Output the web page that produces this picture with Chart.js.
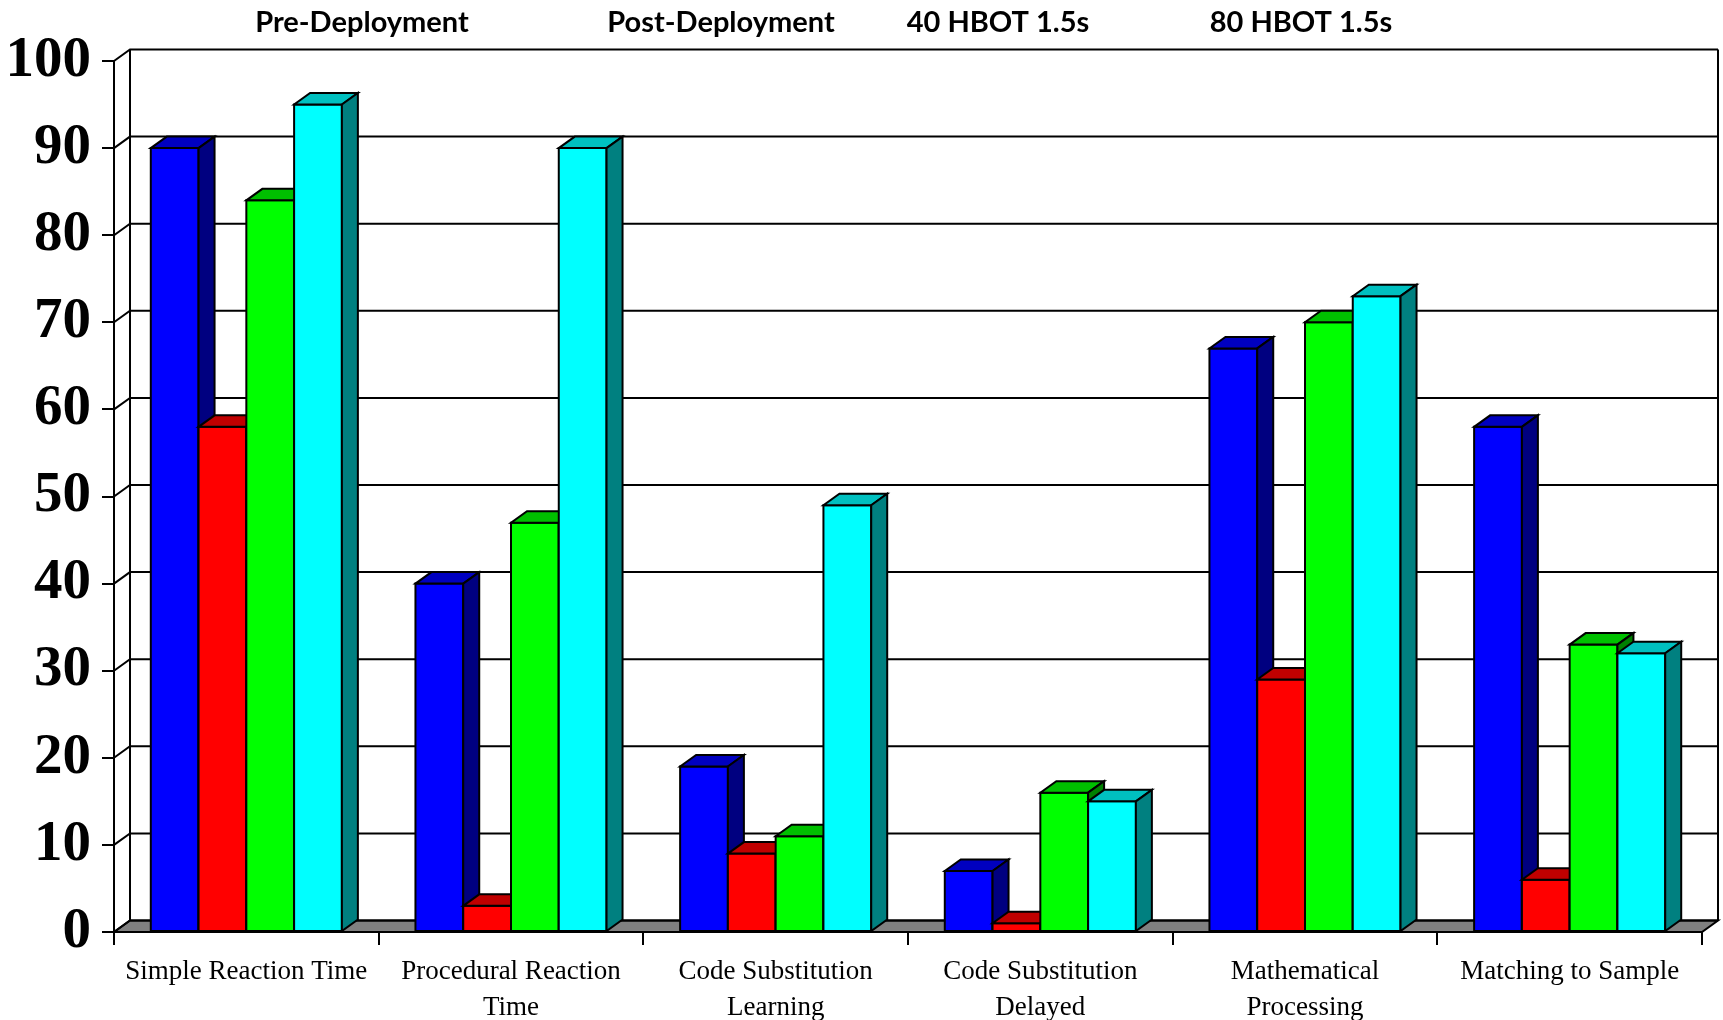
<!DOCTYPE html>
<html>
<head>
<meta charset="utf-8">
<script src="https://cdn.jsdelivr.net/npm/chart.js@4/dist/chart.umd.min.js"></script>
<style>
  html, body { margin: 0; padding: 0; background: #ffffff; }
  canvas { display: block; }
</style>
</head>
<body>
<canvas id="chart" width="1723" height="1020"></canvas>
<script>
// Test categories (multi-line labels are arrays)
const categories = [
  ["Simple Reaction Time"],
  ["Procedural Reaction", "Time"],
  ["Code Substitution", "Learning"],
  ["Code Substitution", "Delayed"],
  ["Mathematical", "Processing"],
  ["Matching to Sample"]
];

const seriesNames = ["Pre-Deployment", "Post-Deployment", "40 HBOT 1.5s", "80 HBOT 1.5s"];

const preDeployment  = [90, 40, 19, 7, 67, 58];
const postDeployment = [58, 3, 9, 1, 29, 6];
const hbot40         = [84, 47, 11, 16, 70, 33];
const hbot80         = [95, 90, 49, 15, 73, 32];

const yTickValues = [0, 10, 20, 30, 40, 50, 60, 70, 80, 90, 100];

// Face colours of the pseudo-3D columns: front, top (lighter shade) and side (darker shade)
const frontColors = ["#0000FF", "#FF0000", "#00FF00", "#00FFFF"];
const topColors   = ["#0000C0", "#C00000", "#00C000", "#00C0C0"];
const sideColors  = ["#000080", "#800000", "#008000", "#008080"];

// Depth offset of the back wall relative to the front plane
const DEPTH = { dx: 16, dy: -11.5 };

function poly(ctx, pts, fill) {
  ctx.beginPath();
  ctx.moveTo(pts[0][0], pts[0][1]);
  for (let k = 1; k < pts.length; k++) ctx.lineTo(pts[k][0], pts[k][1]);
  ctx.closePath();
  if (fill) { ctx.fillStyle = fill; ctx.fill(); }
  ctx.stroke();
}

// Back wall, left side wall and grey floor
const wallPlugin = {
  id: "wall3d",
  beforeDatasetsDraw(chart) {
    const { ctx, chartArea: a, scales: { y } } = chart;
    const { dx, dy } = DEPTH;
    ctx.save();
    ctx.lineWidth = 2;
    ctx.strokeStyle = "#000";
    ctx.lineJoin = "miter";
    const y0 = y.getPixelForValue(y.min);
    const yTop = y.getPixelForValue(y.max);
    poly(ctx, [[a.left, y0], [a.right, y0], [a.right + dx, y0 + dy], [a.left + dx, y0 + dy]], "#808080");
    y.ticks.forEach(t => {
      const py = y.getPixelForValue(t.value);
      ctx.beginPath();
      ctx.moveTo(a.left, py);
      ctx.lineTo(a.left + dx, py + dy);
      ctx.lineTo(a.right + dx, py + dy);
      ctx.stroke();
    });
    ctx.beginPath();
    ctx.moveTo(a.left + dx, y0 + dy);
    ctx.lineTo(a.left + dx, yTop + dy);
    ctx.moveTo(a.right + dx, y0 + dy);
    ctx.lineTo(a.right + dx, yTop + dy);
    ctx.stroke();
    ctx.restore();
  }
};

// Columns with top and side faces, painted series by series from left to right
const columnPlugin = {
  id: "columns3d",
  afterDatasetsDraw(chart) {
    const { ctx } = chart;
    const { dx, dy } = DEPTH;
    ctx.save();
    ctx.lineWidth = 2;
    ctx.strokeStyle = "#000";
    ctx.lineJoin = "miter";
    chart.data.datasets.forEach((ds, i) => {
      const meta = chart.getDatasetMeta(i);
      if (meta.hidden) return;
      meta.data.forEach(bar => {
        const { x, y, base, width } = bar.getProps(["x", "y", "base", "width"], true);
        const L = x - width / 2, R = x + width / 2;
        poly(ctx, [[L, y], [R, y], [R, base], [L, base]], frontColors[i]);
        poly(ctx, [[L, y], [R, y], [R + dx, y + dy], [L + dx, y + dy]], topColors[i]);
        poly(ctx, [[R, y], [R + dx, y + dy], [R + dx, base + dy], [R, base]], sideColors[i]);
      });
    });
    ctx.restore();
  }
};

// Series names written across the top
const seriesTitlePlugin = {
  id: "seriesTitles",
  afterDraw(chart, args, opts) {
    const { ctx } = chart;
    ctx.save();
    ctx.font = opts.font;
    ctx.fillStyle = "#000";
    ctx.textAlign = "center";
    ctx.textBaseline = "alphabetic";
    chart.data.datasets.forEach((ds, i) => {
      ctx.fillText(ds.label, opts.centers[i], opts.baseline);
    });
    ctx.restore();
  }
};

const seriesValues = [preDeployment, postDeployment, hbot40, hbot80];

new Chart(document.getElementById("chart"), {
  type: "bar",
  data: {
    labels: categories,
    datasets: seriesNames.map((name, i) => ({
      label: name,
      data: seriesValues[i],
      backgroundColor: frontColors[i],
      borderWidth: 0,
      categoryPercentage: 0.722,
      barPercentage: 1.0
    }))
  },
  options: {
    responsive: false,
    animation: false,
    devicePixelRatio: 1,
    layout: { padding: { top: 61, right: 21, left: 0, bottom: 0 } },
    plugins: {
      legend: { display: false },
      tooltip: { enabled: false },
      seriesTitles: {
        font: "bold 29px Lato",
        centers: [362, 721, 998, 1301],
        baseline: 32
      }
    },
    scales: {
      x: {
        grid: {
          offset: true,
          drawOnChartArea: false,
          drawTicks: true,
          tickLength: 13,
          color: "#000",
          lineWidth: 2
        },
        border: { display: true, color: "#000", width: 2 },
        ticks: {
          color: "#000",
          font: { family: "Liberation Serif", size: 27, lineHeight: 1.33 },
          padding: 9,
          maxRotation: 0,
          autoSkip: false
        },
        afterFit(scale) { scale.height = 88; }
      },
      y: {
        min: 0,
        max: 100,
        afterBuildTicks(scale) { scale.ticks = yTickValues.map(v => ({ value: v })); },
        grid: {
          drawOnChartArea: false,
          drawTicks: true,
          tickLength: 12,
          color: "#000",
          lineWidth: 2
        },
        border: { display: true, color: "#000", width: 2 },
        ticks: {
          color: "#000",
          font: { family: "Liberation Serif", size: 57, weight: "bold" },
          padding: 11
        },
        afterFit(scale) { scale.width = 114; }
      }
    }
  },
  plugins: [wallPlugin, columnPlugin, seriesTitlePlugin]
});
</script>
</body>
</html>
